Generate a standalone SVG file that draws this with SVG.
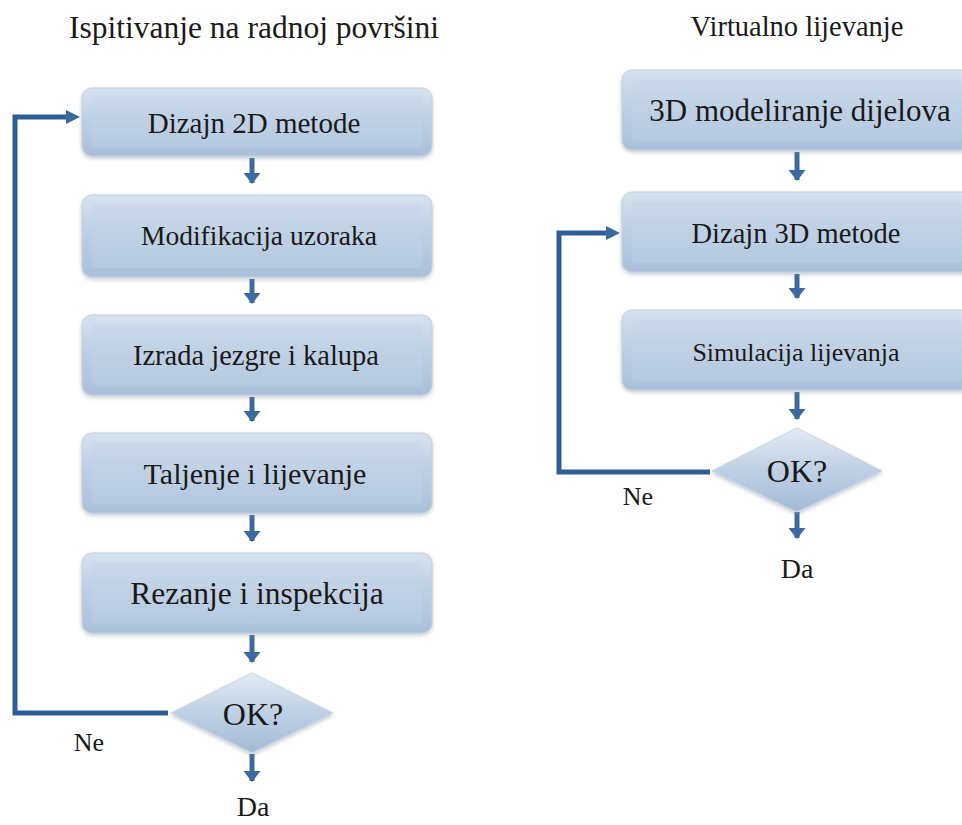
<svg xmlns="http://www.w3.org/2000/svg" width="962" height="825" viewBox="0 0 962 825">
<defs>
<linearGradient id="boxg" x1="0" y1="0" x2="0" y2="1">
<stop offset="0" stop-color="#d6e2ef"/>
<stop offset="0.5" stop-color="#bccee3"/>
<stop offset="1" stop-color="#a9bfd9"/>
</linearGradient>
<linearGradient id="innerg" x1="0" y1="0" x2="0" y2="1">
<stop offset="0" stop-color="#cbd9ea"/>
<stop offset="1" stop-color="#b4c8df"/>
</linearGradient>
<linearGradient id="diag" x1="0" y1="0" x2="0" y2="1">
<stop offset="0" stop-color="#e3ebf4"/>
<stop offset="0.5" stop-color="#bfd0e4"/>
<stop offset="1" stop-color="#a2bad6"/>
</linearGradient>
<filter id="sh" x="-5%" y="-10%" width="110%" height="130%">
<feDropShadow dx="0" dy="2" stdDeviation="2" flood-color="#7d8a99" flood-opacity="0.45"/>
</filter>
<marker id="ah" markerWidth="4" markerHeight="4" refX="2" refY="2" orient="auto" markerUnits="strokeWidth">
<path d="M0,0.3 L2.2,2 L0,3.7 z" fill="#3a6aa0"/>
</marker>
</defs>
<style>
.box{fill:url(#boxg);stroke:#c2d1e2;stroke-width:1;filter:url(#sh)}
.inner{fill:url(#innerg);stroke:none}
.dia{fill:url(#diag);stroke:#c9d6e6;stroke-width:1;filter:url(#sh)}
.t{fill:#1a1a1a;text-anchor:middle}
.c{fill:none;stroke:#2f5e94;stroke-width:5}
.a{fill:none;stroke:#3a6aa0;stroke-width:5;marker-end:url(#ah)}
</style>

<g font-family="'Liberation Serif', 'DejaVu Serif', serif">
<text class="t" x="254" y="38" font-size="31.5">Ispitivanje na radnoj površini</text>
<text class="t" x="797" y="36" font-size="28.5">Virtualno lijevanje</text>

<g id="connectors">
<path class="c" d="M168,713 H15 V117 H68"/>
<path d="M66,110 L80,117 L66,124 z" fill="#3a6aa0"/>
<line class="a" x1="252" y1="158" x2="252" y2="183"/>
<line class="a" x1="252" y1="279" x2="252" y2="303"/>
<line class="a" x1="252" y1="397" x2="252" y2="421"/>
<line class="a" x1="252" y1="515" x2="252" y2="541"/>
<line class="a" x1="252" y1="635" x2="252" y2="662"/>
<line class="a" x1="252" y1="754" x2="252" y2="781"/>
<path class="c" d="M710,472 H559 V233 H608"/>
<path d="M606,226 L620,233 L606,240 z" fill="#3a6aa0"/>
<line class="a" x1="797" y1="152" x2="797" y2="180"/>
<line class="a" x1="797" y1="274" x2="797" y2="298"/>
<line class="a" x1="797" y1="392" x2="797" y2="419"/>
<line class="a" x1="797" y1="512" x2="797" y2="538"/>
</g>

<g id="n1"><rect class="box" x="82" y="88" width="350" height="68" rx="10"/><rect class="inner" x="92" y="96" width="330" height="52" rx="4"/><text class="t" x="254" y="133" font-size="29">Dizajn 2D metode</text></g>
<g id="n2"><rect class="box" x="82" y="195" width="350" height="82" rx="10"/><rect class="inner" x="92" y="204" width="330" height="64" rx="4"/><text class="t" x="259" y="245" font-size="27.5">Modifikacija uzoraka</text></g>
<g id="n3"><rect class="box" x="82" y="315" width="350" height="80" rx="10"/><rect class="inner" x="92" y="324" width="330" height="62" rx="4"/><text class="t" x="256" y="365" font-size="28.5">Izrada jezgre i kalupa</text></g>
<g id="n4"><rect class="box" x="82" y="433" width="350" height="80" rx="10"/><rect class="inner" x="92" y="442" width="330" height="62" rx="4"/><text class="t" x="255" y="484" font-size="30">Taljenje i lijevanje</text></g>
<g id="n5"><rect class="box" x="82" y="553" width="350" height="80" rx="10"/><rect class="inner" x="92" y="562" width="330" height="62" rx="4"/><text class="t" x="257" y="604" font-size="31.5">Rezanje i inspekcija</text></g>
<g id="d1"><path class="dia" d="M252,673 L333,713 L252,753 L171,713 z"/><text class="t" x="253" y="725" font-size="32">OK?</text></g>
<text class="t" x="89" y="751" font-size="26">Ne</text>
<text class="t" x="253" y="816" font-size="28">Da</text>

<g id="r1"><rect class="box" x="622" y="70" width="350" height="80" rx="10"/><rect class="inner" x="632" y="79" width="330" height="62" rx="4"/><text class="t" x="800" y="121" font-size="31">3D modeliranje dijelova</text></g>
<g id="r2"><rect class="box" x="622" y="192" width="350" height="80" rx="10"/><rect class="inner" x="632" y="201" width="330" height="62" rx="4"/><text class="t" x="796" y="243" font-size="28.5">Dizajn 3D metode</text></g>
<g id="r3"><rect class="box" x="622" y="310" width="350" height="80" rx="10"/><rect class="inner" x="632" y="319" width="330" height="62" rx="4"/><text class="t" x="796" y="361" font-size="26">Simulacija lijevanja</text></g>
<g id="d2"><path class="dia" d="M797,428 L882,471 L797,512 L712,471 z"/><text class="t" x="797" y="482" font-size="32">OK?</text></g>
<text class="t" x="638" y="505" font-size="26">Ne</text>
<text class="t" x="797" y="578" font-size="28">Da</text>
</g>
</svg>
